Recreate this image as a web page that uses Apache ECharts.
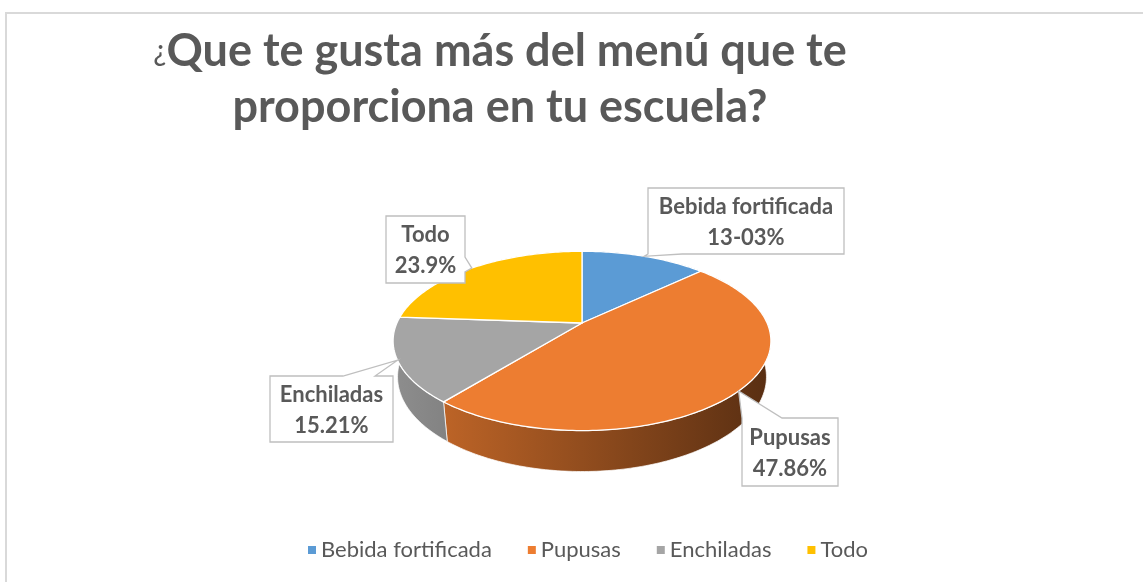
<!DOCTYPE html>
<html>
<head>
<meta charset="utf-8">
<script src="https://cdn.jsdelivr.net/npm/echarts@6/dist/echarts.min.js"></script>
<style>
html,body{margin:0;padding:0;background:#fff;}
#chart{width:1143px;height:582px;}
</style>
</head>
<body>
<div id="chart"></div>
<script>
// ---- data ----
var categories = ['Bebida fortificada', 'Pupusas', 'Enchiladas', 'Todo'];
var values = [13.03, 47.86, 15.21, 23.9];
var pctLabels = ['13-03%', '47.86%', '15.21%', '23.9%'];
var colors = ['#5B9BD5', '#ED7D31', '#A5A5A5', '#FFC000'];

// ---- layout (not data) ----
var CX = 582, CY = 323, K = 819, SINA = 0.465, COSA = 0.885, DIST = 4.425, DEPTH = 0.221;
var callouts = [
  {rect: [648, 188, 196, 66], edge: 'bottom', base: [648, 682]},
  {rect: [742, 418, 96, 68], edge: 'top', base: [742, 782]},
  {rect: [270, 376, 123, 66], edge: 'top', base: [343, 375]},
  {rect: [386, 216, 79, 67], edge: 'right', base: [257, 272]}
];
var FONT = 'Lato, "Open Sans", sans-serif';
var TXT = '#595959';

function proj(deg, rho, hh) {
  var t = deg * Math.PI / 180;
  var u = rho * Math.sin(t), v = rho * Math.cos(t);
  var yc = v * SINA + hh * COSA;
  var zc = DIST + v * COSA - hh * SINA;
  return [CX + K * u / zc, CY - K * yc / zc];
}
function shade(hex, f) {
  var n = parseInt(hex.slice(1), 16);
  var r = Math.round(((n >> 16) & 255) * f), g = Math.round(((n >> 8) & 255) * f), b = Math.round((n & 255) * f);
  return 'rgb(' + r + ',' + g + ',' + b + ')';
}
var total = values.reduce(function (a, b) { return a + b; }, 0);

function renderSlice(params, api) {
  var i = params.seriesIndex;
  var before = 0;
  for (var k = 0; k < i; k++) before += values[k];
  var v = api.value(0);
  var a0 = before / total * 360, a1 = (before + v) / total * 360;
  var top = [], bot = [];
  var steps = Math.max(2, Math.ceil((a1 - a0) / 1));
  for (var s = 0; s <= steps; s++) {
    var a = a0 + (a1 - a0) * s / steps;
    top.push(proj(a, 1, 0));
    bot.push(proj(a, 1, -DEPTH));
  }
  var children = [];
  var grad = new echarts.graphic.LinearGradient(392, 0, 771, 0, [
    {offset: 0, color: shade(colors[i], 0.86)},
    {offset: 1, color: shade(colors[i], 0.37)}
  ], true);
  children.push({
    type: 'polygon', z2: 1,
    shape: {points: top.concat(bot.slice().reverse())},
    style: {fill: grad, stroke: 'rgba(255,255,255,0.7)', lineWidth: 1}
  });
  children.push({
    type: 'polygon', z2: 10,
    shape: {points: [[CX, CY]].concat(top)},
    style: {fill: colors[i], stroke: '#ffffff', lineWidth: 1.3}
  });
  // callout
  var c = callouts[i];
  var tip = proj((a0 + a1) / 2, 1, 0);
  var x = c.rect[0], y = c.rect[1], w = c.rect[2], h = c.rect[3];
  var pts = [[x, y]];
  if (c.edge === 'top') pts.push([c.base[0], y], tip, [c.base[1], y]);
  pts.push([x + w, y]);
  if (c.edge === 'right') pts.push([x + w, c.base[0]], tip, [x + w, c.base[1]]);
  pts.push([x + w, y + h]);
  if (c.edge === 'bottom') pts.push([c.base[1], y + h], tip, [c.base[0], y + h]);
  pts.push([x, y + h]);
  if (c.edge === 'left') pts.push([x, c.base[1]], tip, [x, c.base[0]]);
  children.push({
    type: 'polygon', z2: 20,
    shape: {points: pts},
    style: {fill: '#ffffff', stroke: '#BFBFBF', lineWidth: 1.3}
  });
  children.push({
    type: 'text', z2: 30,
    style: {
      x: x + w / 2, y: y + h / 2 + 1,
      text: categories[i] + '\n' + pctLabels[i],
      align: 'center', verticalAlign: 'middle',
      font: 'bold 22px ' + FONT, fill: TXT, lineHeight: 31
    }
  });
  return {type: 'group', children: children};
}

var series = categories.map(function (name, i) {
  return {
    type: 'custom', name: name, coordinateSystem: 'none',
    itemStyle: {color: colors[i]},
    renderItem: renderSlice,
    data: [[values[i]]],
    animation: false
  };
});

var chart = echarts.init(document.getElementById('chart'), null, {renderer: 'canvas'});
chart.setOption({
  backgroundColor: '#ffffff',
  animation: false,
  title: {
    text: '{q|¿}{b|Que te gusta más del menú que te}\n{b|proporciona en tu escuela?}',
    left: 495, top: 18, textAlign: 'center',
    textStyle: {
      rich: {
        q: {fontFamily: FONT, fontSize: 30, color: TXT, fontWeight: 'normal', lineHeight: 56},
        b: {fontFamily: FONT, fontSize: 45, color: TXT, fontWeight: 'bold', lineHeight: 56}
      }
    }
  },
  legend: {
    data: categories,
    left: 303, top: 534,
    icon: 'rect', itemWidth: 8, itemHeight: 8, itemGap: 36,
    textStyle: {fontFamily: FONT, fontSize: 22, color: TXT}
  },
  graphic: [{
    type: 'rect', silent: true, z: -1,
    shape: {x: 6, y: 13, width: 1200, height: 700},
    style: {fill: 'none', stroke: '#D9D9D9', lineWidth: 2}
  }],
  series: series
});
</script>
</body>
</html>
